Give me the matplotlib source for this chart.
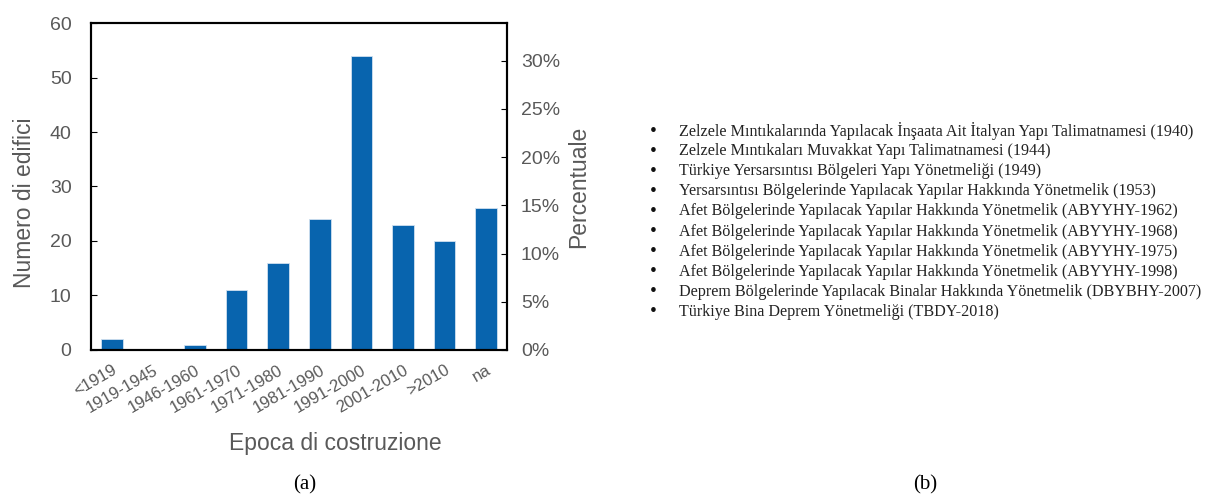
import numpy as np
import matplotlib.pyplot as plt
from matplotlib.ticker import PercentFormatter

epoche = ["<1919", "1919-1945", "1946-1960", "1961-1970", "1971-1980",
          "1981-1990", "1991-2000", "2001-2010", ">2010", "na"]
n_edifici = [2, 0, 1, 11, 16, 24, 54, 23, 20, 26]

normative = [
    "Zelzele Mıntıkalarında Yapılacak İnşaata Ait İtalyan Yapı Talimatnamesi (1940)",
    "Zelzele Mıntıkaları Muvakkat Yapı Talimatnamesi (1944)",
    "Türkiye Yersarsıntısı Bölgeleri Yapı Yönetmeliği (1949)",
    "Yersarsıntısı Bölgelerinde Yapılacak Yapılar Hakkında Yönetmelik (1953)",
    "Afet Bölgelerinde Yapılacak Yapılar Hakkında Yönetmelik (ABYYHY-1962)",
    "Afet Bölgelerinde Yapılacak Yapılar Hakkında Yönetmelik (ABYYHY-1968)",
    "Afet Bölgelerinde Yapılacak Yapılar Hakkında Yönetmelik (ABYYHY-1975)",
    "Afet Bölgelerinde Yapılacak Yapılar Hakkında Yönetmelik (ABYYHY-1998)",
    "Deprem Bölgelerinde Yapılacak Binalar Hakkında Yönetmelik (DBYBHY-2007)",
    "Türkiye Bina Deprem Yönetmeliği (TBDY-2018)",
]

grigio = "#595959"
plt.rcParams['font.family'] = ['Liberation Sans', 'DejaVu Sans']

fig = plt.figure(figsize=(12.07, 4.96), dpi=100)
ax = fig.add_axes([0.0754, 0.2944, 0.3446, 0.6592])

x = np.arange(len(epoche))
ax.bar(x, n_edifici, width=0.52, color="#0864ae", edgecolor="#d0e0f0", linewidth=0.6)
ax.set_xlim(-0.5, len(epoche) - 0.5)
ax.set_ylim(0, 60)
ax.set_yticks(range(0, 61, 10))
ax.set_xticks(x)
ax.set_xticklabels(epoche, rotation=30, ha="right", rotation_mode="anchor")
ax.tick_params(axis="x", length=0, pad=9, labelsize=12, labelcolor=grigio)
ax.tick_params(axis="y", direction="in", length=4, pad=14, labelsize=14, labelcolor=grigio)
ax.set_ylabel("Numero di edifici", fontsize=16.5, color=grigio)
ax.yaxis.set_label_coords(-0.16, 0.45)
ax.set_xlabel("Epoca di costruzione", fontsize=16.5, color=grigio)
ax.xaxis.set_label_coords(0.587, -0.287)
ax.xaxis.label.set_va("center")
ax.yaxis.label.set_va("center")
for s in ax.spines.values():
    s.set_linewidth(1.5)

tot = sum(n_edifici)
ax2 = ax.twinx()
ax2.set_ylim(0, 60 / tot)
ax2.set_yticks(np.arange(0, 0.31, 0.05))
ax2.yaxis.set_major_formatter(PercentFormatter(1.0, decimals=0))
ax2.tick_params(axis="y", direction="in", length=4, pad=10, labelsize=14, labelcolor=grigio)
ax2.set_ylabel("Percentuale", fontsize=16.5, color=grigio)
ax2.yaxis.set_label_coords((579 - 91) / 416, (350 - 187) / 327)
ax2.yaxis.label.set_va("center")
for s in ax2.spines.values():
    s.set_linewidth(1.5)

serif = ['Liberation Serif', 'DejaVu Serif']
y0 = 1 - 131 / 496
dy = 20.1 / 496
for i, t in enumerate(normative):
    y = y0 - i * dy
    fig.text(653 / 1207, y, "•", fontsize=14, family=serif, va="center", ha="center", color="#111111")
    fig.text(679 / 1207, y, t, fontsize=11.6, family=serif, va="center", ha="left", color="#222222")

fig.text(305 / 1207, 1 - 485 / 496, "(a)", fontsize=15, family=serif, ha="center", va="center")
fig.text(925 / 1207, 1 - 485 / 496, "(b)", fontsize=15, family=serif, ha="center", va="center")

fig.savefig("out.png", dpi=100)
